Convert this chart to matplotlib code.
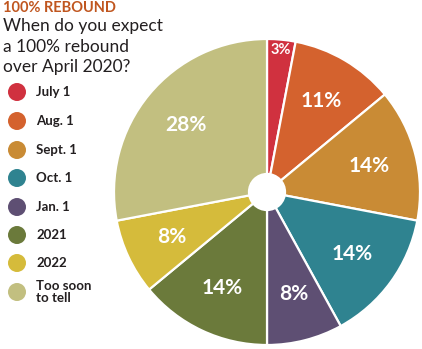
import numpy as np
import matplotlib
matplotlib.use('Agg')
import matplotlib.pyplot as plt
from matplotlib.patches import Circle

# Survey answers, clockwise from 12 o'clock
labels = ['July 1', 'Aug. 1', 'Sept. 1', 'Oct. 1', 'Jan. 1', '2021', '2022', 'Too soon\nto tell']
shares = [3, 11, 14, 14, 8, 14, 8, 28]
colors = ['#d0313f', '#d4622e', '#c98b35', '#2f8390', '#5e4f73', '#6b7a3b', '#d5bb3b', '#c2bf80']

W, H = 422, 349
fig = plt.figure(figsize=(W / 100, H / 100), dpi=100)
fig.patch.set_facecolor('white')

def px(x, y):
    # pixel coords (top-left origin) -> figure fraction
    return x / W, 1 - y / H

# pie axes
cx, cy, R = 267, 192, 153
ax = fig.add_axes([(cx - R) / W, (H - cy - R) / H, 2 * R / W, 2 * R / H])
wedges, _ = ax.pie(shares, colors=colors, startangle=90, counterclock=False,
                   radius=1.0, wedgeprops=dict(edgecolor='white', linewidth=1.6))
ax.add_patch(Circle((0, 0), 0.125, facecolor='white', edgecolor='none', zorder=5))
ax.set_xlim(-1, 1)
ax.set_ylim(-1, 1)
ax.set_aspect('equal')
ax.axis('off')

bold = dict(family=['Lato', 'DejaVu Sans'], weight='bold')

# percentage labels
cum = np.cumsum([0] + shares)
for i, s in enumerate(shares):
    mid = np.deg2rad(90 - (cum[i] + s / 2) * 3.6)
    r = 0.93 if s < 5 else 0.69
    ax.text(r * np.cos(mid), r * np.sin(mid), f'{s}%', color='white',
            fontsize=10.5 if s < 5 else 15, ha='center', va='center', **bold)

# title block
fig.text(*px(3, 12.5), '100% REBOUND', color='#c0561f', fontsize=10.5,
         ha='left', va='baseline', **bold)
sub = ['When do you expect', 'a 100% rebound', 'over April 2020?']
for k, line in enumerate(sub):
    fig.text(*px(3, 31 + k * 20.5), line, color='#231f20', fontsize=12.5,
             family=['Lato', 'DejaVu Sans'], ha='left', va='baseline')

# legend
leg_y = [92, 121, 150, 178, 207, 235, 263, 292]
lax = fig.add_axes([0, 0, 1, 1], facecolor='none')
lax.set_xlim(0, W)
lax.set_ylim(H, 0)
lax.axis('off')
for lab, col, y in zip(labels, colors, leg_y):
    lax.add_patch(Circle((17, y), 9, facecolor=col, edgecolor='none'))
    lax.text(36, y, lab, color='#231f20', fontsize=9.5, ha='left', va='center',
             linespacing=0.95, **bold)

fig.savefig('out.png', dpi=100)
